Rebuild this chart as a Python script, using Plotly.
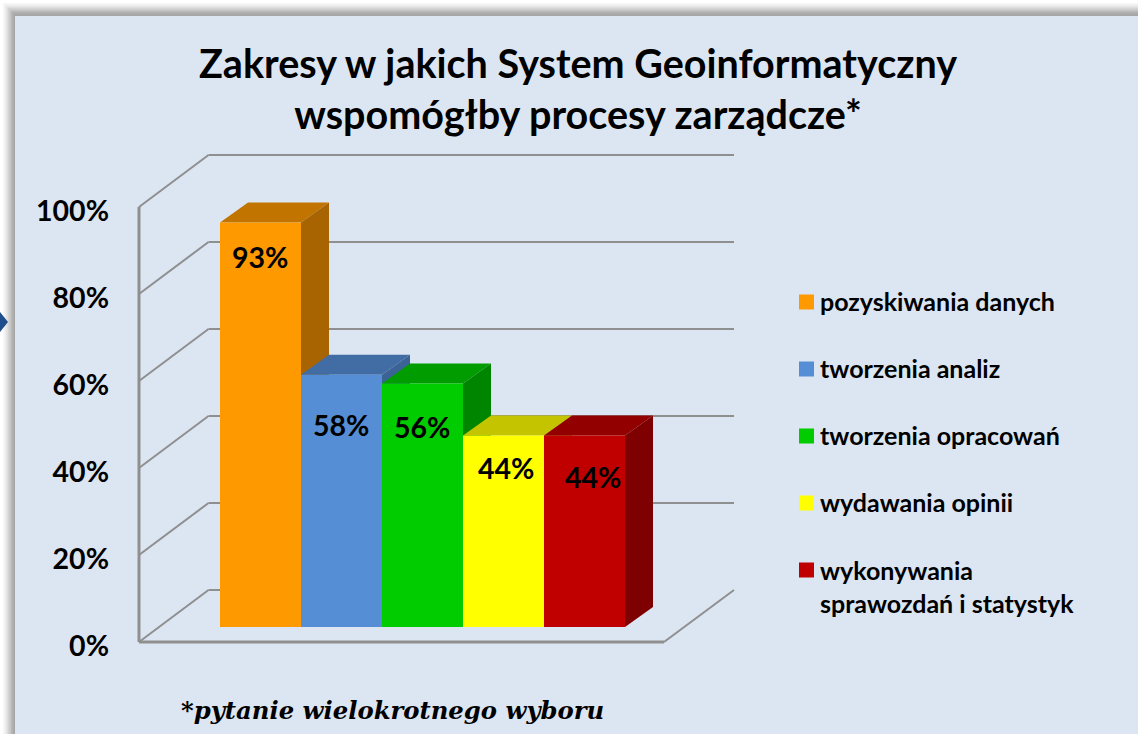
import plotly.graph_objects as go

categories = ["pozyskiwania danych", "tworzenia analiz", "tworzenia opracowań", "wydawania opinii", "wykonywania<br>sprawozdań i statystyk"]
values = [93, 58, 56, 44, 44]
labels = ["93%", "58%", "56%", "44%", "44%"]
front_colors = ["#ff9900", "#558ed5", "#00cc00", "#ffff00", "#c00000"]
top_colors = ["#c27400", "#426da4", "#009c00", "#c4c400", "#930000"]
side_colors = ["#a86400", "#3b6395", "#008500", "#a8a800", "#7f0000"]
y_ticks = [0, 20, 40, 60, 80, 100]
y_ticklabels = ["0%", "20%", "40%", "60%", "80%", "100%"]
label_shift_x = [-1, -1, -1, 2, 8]
label_shift_y = [35, 50, 44, 32, 41]

W, H = 1138, 734
BG = "#dce6f2"
GRID = "#8f8f8f"
FONT = "Lato"
PL, PR, PT, PB = 136, 737, 150, 646   # plot box in pixels
BAR_PX = 81.0
Y_PX = 4.35
X0_PX, Y0_PX = 220, 642               # left of first bar; 0% on the front floor edge

xr = [(PL - X0_PX) / BAR_PX, (PR - X0_PX) / BAR_PX]
yr = [(Y0_PX - PB) / Y_PX, (Y0_PX - PT) / Y_PX]

ax_x = (139 - X0_PX) / BAR_PX
wall_dx, wall_dy = 69.5 / BAR_PX, 52 / Y_PX
right_x = (664 - X0_PX) / BAR_PX
end_x = (734 - X0_PX) / BAR_PX
bar_base = 15 / Y_PX
bar_dx, bar_dy = 28 / BAR_PX, 20 / Y_PX


def px(x):
    return (x - PL) / (PR - PL)


def py(y):
    return (PB - y) / (PB - PT)


shapes = []
# slide frame
for i, c in enumerate(["#f7f7f7", "#eeeeee", "#e2e2e2", "#d4d4d4", "#c6c6c6", "#b8b8b8", "#acacac", "#a6a6a6"]):
    off = 3 + i * 1.6
    shapes.append(dict(type="rect", xref="paper", yref="paper", x0=px(off), x1=px(W + 20), y0=py(off), y1=py(H + 20),
                       fillcolor=c, line_width=0, layer="below"))
shapes.append(dict(type="rect", xref="paper", yref="paper", x0=px(15), x1=px(W + 20), y0=py(16), y1=py(H + 20),
                   fillcolor=BG, line_width=0, layer="below"))
# blue arrow peeking from the left
shapes.append(dict(type="path", xref="paper", yref="paper", layer="below", line_width=0, fillcolor="#1f4e8c",
                   path=f"M {px(0)} {py(312)} L {px(8)} {py(322)} L {px(0)} {py(332)} Z"))

# walls and floor of the chart
def line(x0, y0, x1, y1, w=2):
    shapes.append(dict(type="line", xref="x", yref="y", x0=x0, y0=y0, x1=x1, y1=y1,
                       line=dict(color=GRID, width=w), layer="below"))


for t in y_ticks:
    line(ax_x, t, ax_x + wall_dx, t + wall_dy)
    if t > 0:
        line(ax_x + wall_dx, t + wall_dy, end_x, t + wall_dy)
line(ax_x, 0, ax_x, 100, 3)
line(ax_x + wall_dx, wall_dy, ax_x + wall_dx + 0.15, wall_dy)
line(ax_x, 0, right_x, 0, 3)
line(right_x, 0, end_x, wall_dy)


def poly(pts, color):
    path = "M " + " L ".join(f"{a} {b}" for a, b in pts) + " Z"
    shapes.append(dict(type="path", xref="x", yref="y", path=path, fillcolor=color, line_width=0, layer="below"))


# depth faces of the bars, back-to-front left to right
for i, v in enumerate(values):
    top = bar_base + v
    poly([(i, top), (i + bar_dx, top + bar_dy), (i + 1 + bar_dx, top + bar_dy), (i + 1, top)], top_colors[i])
    poly([(i + 1, top), (i + 1 + bar_dx, top + bar_dy), (i + 1 + bar_dx, bar_base + bar_dy), (i + 1, bar_base)], side_colors[i])

fig = go.Figure()
fig.add_bar(x=[i + 0.5 for i in range(len(values))], y=values, base=bar_base, width=1,
            marker=dict(color=front_colors, line_width=0), showlegend=False, hoverinfo="skip")

ann = []
for i, v in enumerate(values):
    ann.append(dict(x=i + 0.5, y=bar_base + v, xref="x", yref="y", text=f"<b>{labels[i]}</b>", showarrow=False,
                    xshift=label_shift_x[i], yshift=-label_shift_y[i], font=dict(family=FONT, size=28.5, color="#000000")))

# footnote
ann.append(dict(x=px(179), y=py(710), xref="paper", yref="paper", showarrow=False, xanchor="left", yanchor="middle",
                text="<b><i>*pytanie wielokrotnego wyboru</i></b>",
                font=dict(family="DejaVu Serif", size=24.3, color="#000000")))

# legend
legend_y = [302, 369, 436, 503, 570]
for i, name in enumerate(categories):
    yc = legend_y[i]
    two = "<br>" in name
    shapes.append(dict(type="rect", xref="paper", yref="paper", x0=px(799), x1=px(814), y0=py(yc - 7.5), y1=py(yc + 7.5),
                       fillcolor=front_colors[i], line_width=0))
    ann.append(dict(x=px(818), y=py(yc), xref="paper", yref="paper", showarrow=False, xanchor="left",
                    yanchor="top" if two else "middle", align="left", text=f"<b>{name}</b>", yshift=17 if two else 1,
                    font=dict(family=FONT, size=25, color="#000000")))

fig.update_layout(
    width=W, height=H, margin=dict(l=PL, r=W - PR, t=PT, b=H - PB, autoexpand=False),
    paper_bgcolor="#ffffff", plot_bgcolor="rgba(0,0,0,0)", shapes=shapes, annotations=ann, showlegend=False,
    title=dict(text="<b>Zakresy w jakich System Geoinformatyczny<br>wspomógłby procesy zarządcze*</b>",
               x=578 / W, xanchor="center", xref="container", y=1 - 78 / H, yanchor="middle",
               yref="container", font=dict(family=FONT, size=39.5, color="#000000")),
    xaxis=dict(range=xr, visible=False, fixedrange=True),
    yaxis=dict(range=yr, tickmode="array", tickvals=y_ticks, ticktext=[f"<b>{t}</b>" for t in y_ticklabels],
               showgrid=False, zeroline=False, showline=False, ticks="", ticklabelstandoff=26, ticklabelshift=4,
               tickfont=dict(family=FONT, size=28.5, color="#000000"), fixedrange=True),
)
fig.write_html("out.html", config=dict(displayModeBar=False),
               post_script="document.body.style.margin='0';document.body.style.overflow='hidden';")
